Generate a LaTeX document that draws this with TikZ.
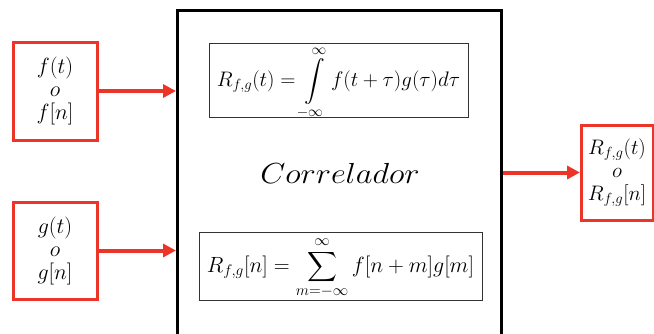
\RequirePackage{fix-cm}
\documentclass[tikz,border=0pt]{standalone}
\usepackage{amsmath}
\usetikzlibrary{arrows.meta}
\definecolor{sigred}{RGB}{236,52,40}
\begin{document}
\begin{tikzpicture}[x=1pt,y=-1pt,
  redbox/.style={draw=sigred,line width=3pt,fill=white,inner sep=0pt,align=center,font=\fontsize{22}{23}\selectfont},
  mainbox/.style={draw=black,line width=3pt,inner sep=0pt},
  eqbox/.style={draw=black!80,line width=0.9pt,inner sep=0pt},
  redarrow/.style={draw=sigred,line width=4pt,-{Triangle[length=13pt,width=13pt]},shorten >=-0.5pt}
]
\useasboundingbox (0,0) rectangle (654,333);
\clip (0,0) rectangle (654,333);
\node[mainbox,minimum width=324pt,minimum height=335pt] (main) at (339,177.5) {};
\node[redbox,minimum width=84pt,minimum height=98pt] (f) at (55,91) {$f(t)$\\$o$\\$f[n]$};
\node[redbox,minimum width=84pt,minimum height=97pt] (g) at (55,250.5) {$g(t)$\\$o$\\$g[n]$};
\node[redbox,minimum width=72pt,minimum height=95pt,font=\fontsize{21}{23}\selectfont] (out) at (617,172.5) {$R_{f,g}(t)$\\$o$\\$R_{f,g}[n]$};
\node[eqbox,minimum width=259pt,minimum height=74pt] (eq1) at (338.5,80) {};
\node[font=\fontsize{21}{23}\selectfont] (eq1t) at ([yshift=-3pt]eq1.center) {$R_{f,g}(t) = \displaystyle\int\limits_{-\infty}^{\infty} f(t+\tau)g(\tau)d\tau$};
\node[eqbox,minimum width=283pt,minimum height=68pt] (eq2) at (340.5,266) {};
\node[font=\fontsize{22}{24}\selectfont] (eq2t) at ([yshift=-2pt]eq2.center) {$R_{f,g}[n] = \displaystyle\sum_{m=-\infty}^{\infty} f[n+m]g[m]$};
\node[font=\fontsize{29}{33}\selectfont] (lbl) at (340,173) {\scalebox{1.12}[1]{$Correlador$}};
\draw[redarrow] (f.east) -- (f.east -| main.west);
\draw[redarrow] (g.east) -- (g.east -| main.west);
\draw[redarrow] (out.west -| main.east) -- (out.west);
\end{tikzpicture}
\end{document}
